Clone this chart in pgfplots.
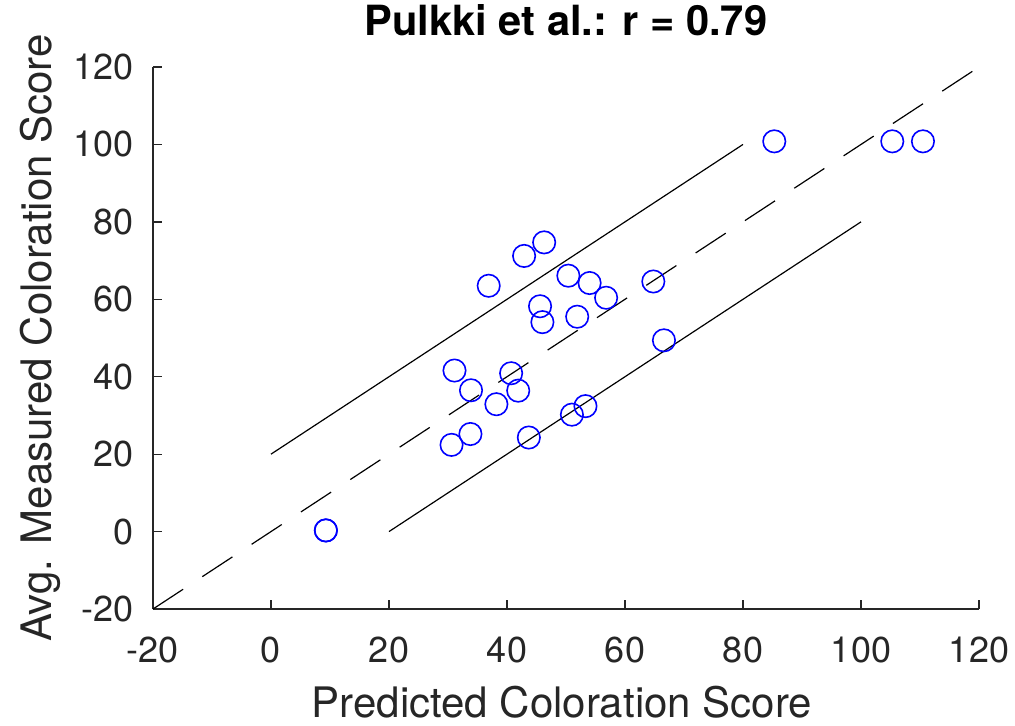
\documentclass[border=0pt]{standalone}
\usepackage{fontspec}
\setmainfont{TeX Gyre Heros}
\usepackage{pgfplots}
\pgfplotsset{compat=1.18}
\definecolor{axgray}{rgb}{0.15,0.15,0.15}
\begin{document}
\begin{tikzpicture}
\begin{axis}[
  scale only axis,
  width=413pt, height=271pt,
  xmin=-20, xmax=120, ymin=-20, ymax=120,
  xtick={-20,0,...,120}, ytick={-20,0,...,120},
  axis x line*=bottom, axis y line*=left,
  axis line style={-, line width=0.65pt, axgray},
  tick align=inside,
  major tick length=4.5pt,
  tick style={line width=0.65pt, axgray},
  /pgf/number format/assume math mode=true,
  ticklabel style={font=\fontsize{18}{21}\selectfont, color=axgray, inner sep=0pt},
  xticklabel style={anchor=north, yshift=-14pt},
  yticklabel style={anchor=east, xshift=-9.5pt},
  xlabel={Predicted Coloration Score},
  ylabel={Avg. Measured Coloration Score},
  label style={font=\fontsize{21}{24}\selectfont, color=axgray, inner sep=0pt},
  xlabel style={at={(axis description cs:0.495,-0.2010)}, anchor=base},
  ylabel style={at={(axis description cs:-0.1223,0.5)}, anchor=base, rotate=0},
  title={\textbf{Pulkki et al.: r = 0.79}},
  title style={font=\fontsize{20.8}{24}\selectfont, at={(axis description cs:0.5,1)}, anchor=base, yshift=10pt, inner sep=0pt},
  clip=false,
]
\addplot[black, line width=0.6pt, dash pattern=on 18pt off 11.5pt] coordinates {(-20,-20) (120,120)};
\addplot[black, line width=0.6pt] coordinates {(0,20) (80,100)};
\addplot[black, line width=0.6pt] coordinates {(20,0) (100,80)};
\addplot[only marks, mark=o, mark size=5.6pt, blue, mark options={line width=0.8pt}] coordinates {
(85.3,100.8) (105.3,100.8) (110.5,100.8)
(46.3,74.7) (42.9,71.2) (36.9,63.5) (50.4,66.1) (54.0,64.2) (64.8,64.6)
(56.8,60.4) (45.6,58.2) (46.0,54.1) (51.9,55.5) (66.6,49.4)
(31.1,41.6) (40.7,40.9) (33.9,36.5) (41.9,36.4) (38.2,32.9)
(53.3,32.4) (51.0,30.2) (30.6,22.4) (33.8,25.2) (43.7,24.3)
(9.3,0.3) (9.3,0.3)
};
\end{axis}
\pgfresetboundingbox
\path (-76.5pt,-58pt) rectangle (431pt,304.5pt);
\end{tikzpicture}
\end{document}
